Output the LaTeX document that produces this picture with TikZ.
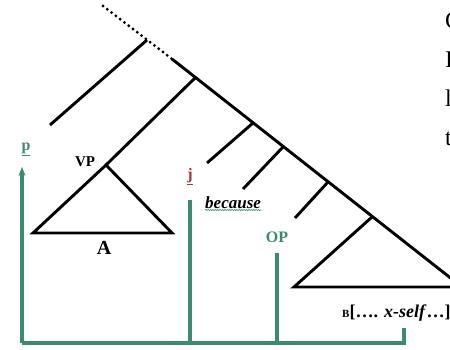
\documentclass[tikz,border=0pt]{standalone}
\usepackage{fontspec}
\setmainfont{Liberation Serif}
\usetikzlibrary{arrows.meta,decorations.pathmorphing}
\definecolor{tgreen}{RGB}{58,140,110}
\definecolor{jred}{RGB}{170,55,40}
\begin{document}
\begin{tikzpicture}[x=1pt,y=-1pt,
  tree/.style={line width=2.9pt, black},
  dotline/.style={line width=3.2pt, black, line cap=round, dash pattern=on 0pt off 5.4pt},
  link/.style={line width=3.1pt, tgreen},
  lab/.style={inner sep=0pt, font=\bfseries},
  edgetxt/.style={inner sep=0pt, anchor=base west, font=\fontsize{24}{28}\selectfont}]
\useasboundingbox (0,0) rectangle (450,350);
\fill[white] (0,0) rectangle (450,350);
% spine points
\coordinate (s0) at (103,6);
\coordinate (n1) at (147,40);
\coordinate (s1) at (172,59);
\coordinate (n2) at (195,78);
\coordinate (n3) at (253,123);
\coordinate (n4) at (283,147);
\coordinate (n5) at (328,182);
\coordinate (n6) at (372,217);
\coordinate (s9) at (462,287);
% branch ends
\coordinate (e1) at (50,125);
\coordinate (vp) at (106,165);
\coordinate (e3) at (207,163);
\coordinate (e4) at (243,189);
\coordinate (e5) at (295,218);
\coordinate (bl) at (294,287);
\coordinate (br) at (462,287);
\coordinate (vl) at (33,233);
\coordinate (vr) at (172,233);
% tree
\draw[dotline] (s0) -- (s1);
\draw[tree] (s1) -- (s9);
\draw[tree] (n1) -- (e1);
\draw[tree] (n2) -- (vp);
\draw[tree] (n3) -- (e3);
\draw[tree] (n4) -- (e4);
\draw[tree] (n5) -- (e5);
\draw[tree, line join=miter] (n6) -- (bl) -- (br);
\draw[tree, line join=miter] (vl) -- (vp) -- (vr) -- cycle;
% green links
\coordinate (g0) at (22,343);
\coordinate (gtop) at (22,167);
\coordinate (gj) at (190,200);
\coordinate (gjb) at (190,343);
\coordinate (gop) at (277,253);
\coordinate (gopb) at (277,343);
\coordinate (gr) at (404,328);
\coordinate (grb) at (404,343);
\draw[link, -{Stealth[length=9pt,width=7pt]}] (g0) -- (gtop);
\draw[link] (g0) -- (grb) -- (gr);
\draw[link] (gj) -- (gjb);
\draw[link] (gop) -- (gopb);
% labels
\node[lab, text=tgreen, font=\bfseries\fontsize{16}{18}\selectfont] (p) at (26,149) {\underline{p}};
\node[lab, font=\bfseries\fontsize{15}{17}\selectfont] (VP) at (85,162) {VP};
\node[lab, font=\bfseries\fontsize{20}{22}\selectfont] (A) at (104,248) {A};
\node[lab, text=jred, font=\bfseries\fontsize{16}{18}\selectfont] (j) at (190,177) {\underline{j}};
\node[lab, font=\bfseries\itshape\fontsize{17}{19}\selectfont, anchor=base west] (because) at (205,208) {because};
\draw[tgreen, line width=0.6pt, decorate, decoration={snake, amplitude=0.6pt, segment length=2.4pt}]
  ([yshift=-2pt]because.base west) -- ([yshift=-2pt]because.base east);
\node[lab, text=tgreen, font=\bfseries\fontsize{16}{18}\selectfont] (OP) at (277,237) {OP};
\node[lab, anchor=base west, font=\bfseries\fontsize{18}{20}\selectfont] (Btxt) at (342,317)
  {{\fontsize{11}{12}\selectfont B}[…. \textit{x-self}…]};
% cut-off text at right edge
\node[edgetxt] (t1) at (445,29) {C};
\node[edgetxt] (t2) at (445,68) {I};
\node[edgetxt] (t3) at (445,107) {l};
\node[edgetxt] (t4) at (445,146) {t};
\end{tikzpicture}
\end{document}
